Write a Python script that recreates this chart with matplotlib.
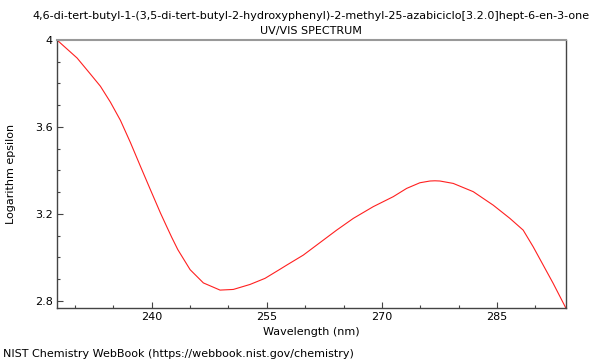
import matplotlib.pyplot as plt
from matplotlib.ticker import MultipleLocator, FormatStrFormatter

# values
wavelength = [227.65, 230.27, 232.01, 233.31, 234.61, 235.92, 237.22, 238.52,
              239.8, 241.13, 241.9, 242.6, 243.4, 245.0, 246.73, 248.9, 250.63,
              252.81, 254.76, 256.72, 257.59, 259.75, 262.36, 264.1, 266.27,
              268.87, 271.48, 273.22, 274.95, 276.26, 276.91, 277.56, 279.29,
              281.9, 284.5, 286.68, 288.41, 289.72, 291.02, 292.32, 293.95]
log_eps = [4.0, 3.917, 3.843, 3.787, 3.714, 3.630, 3.528, 3.419,
           3.313, 3.204, 3.145, 3.092, 3.035, 2.943, 2.882, 2.849, 2.852,
           2.875, 2.903, 2.945, 2.964, 3.010, 3.079, 3.125, 3.179,
           3.233, 3.279, 3.317, 3.343, 3.351, 3.352, 3.351, 3.340,
           3.302, 3.240, 3.179, 3.125, 3.048, 2.964, 2.880, 2.768]

title = ("4,6-di-tert-butyl-1-(3,5-di-tert-butyl-2-hydroxyphenyl)-2-methyl-25-"
         "azabiciclo[3.2.0]hept-6-en-3-one\nUV/VIS SPECTRUM")

fig = plt.figure(figsize=(6, 3.6), dpi=100)
ax = fig.add_axes([0.095, 0.1453, 0.8478, 0.7436])
ax.plot(wavelength, log_eps, color='#ff2020', lw=0.8)

ax.set_xlim(wavelength[0], wavelength[-1])
ax.set_ylim(2.768, 4.0)
ax.xaxis.set_major_locator(MultipleLocator(15))
ax.xaxis.set_minor_locator(MultipleLocator(5))
ax.yaxis.set_major_locator(MultipleLocator(0.4))
ax.yaxis.set_minor_locator(MultipleLocator(0.1))
ax.yaxis.set_major_formatter(FormatStrFormatter('%g'))
ax.tick_params(which='both', direction='in', width=0.8, color='#444444')
ax.tick_params(which='major', length=4, labelsize=8, pad=3)
ax.tick_params(which='minor', length=2.5)

for side in ['left', 'bottom', 'right']:
    ax.spines[side].set_color('#444444')
    ax.spines[side].set_linewidth(1)
ax.spines['top'].set_color('#999999')
ax.spines['top'].set_linewidth(1.5)

ax.set_title(title, fontsize=8, pad=4, linespacing=1.65)
ax.set_xlabel("Wavelength (nm)", fontsize=8, labelpad=4)
ax.set_ylabel("Logarithm epsilon", fontsize=8, labelpad=14)
fig.text(0.005, 0.008, "NIST Chemistry WebBook (https://webbook.nist.gov/chemistry)",
         fontsize=8)

fig.savefig("out.png", dpi=100)
